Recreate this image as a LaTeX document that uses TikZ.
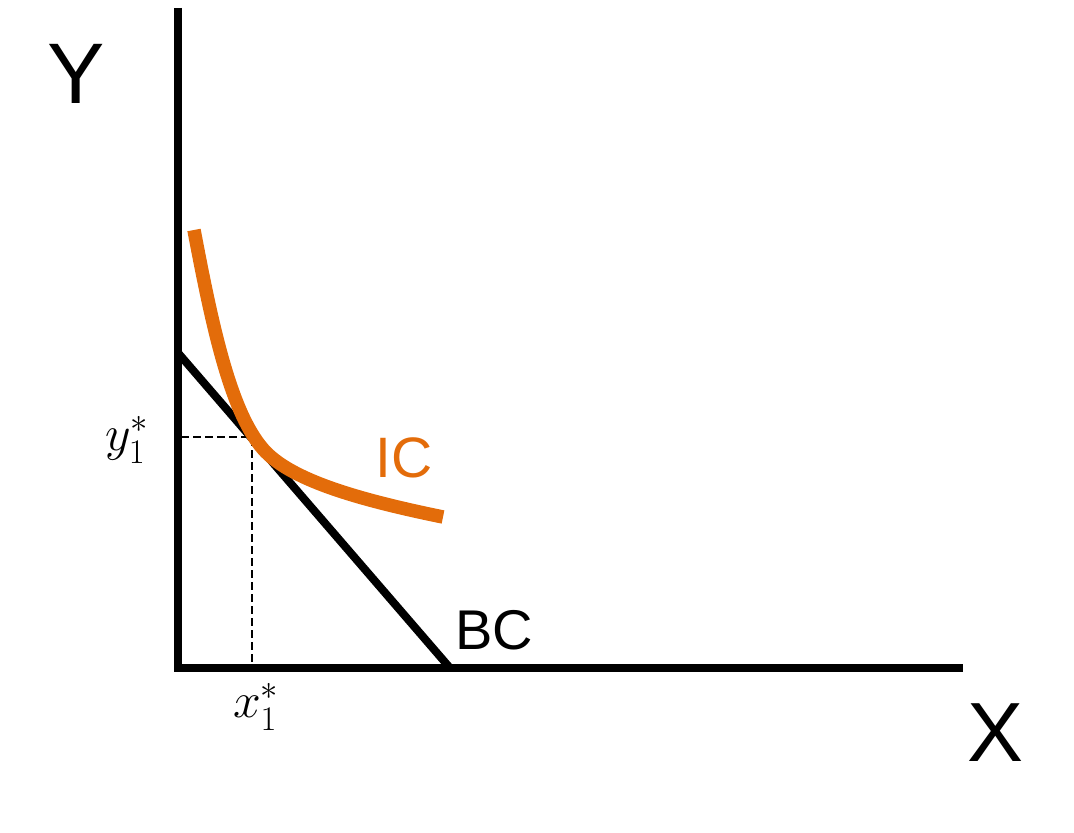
\documentclass[tikz,border=0pt]{standalone}
\usepackage{fontspec}
\setmainfont{Liberation Sans}
\definecolor{icorange}{RGB}{227,108,10}
\begin{document}
\begin{tikzpicture}[x=0.5pt,y=-0.5pt,
  axis/.style={line width=4pt,line join=miter},
  bcline/.style={line width=4pt},
  icline/.style={line width=6.75pt,color=icorange},
  guide/.style={line width=1.3pt,dash pattern=on 4pt off 2pt},
  lab/.style={inner sep=0pt,anchor=center}]
\useasboundingbox (0,0) rectangle (1074,833);
\coordinate (Ytop) at (177.5,8);
\coordinate (O) at (177.5,668);
\coordinate (Xend) at (963,668);
\coordinate (B1) at (179,354);
\coordinate (B2) at (450,668);
\coordinate (T) at (252,437);
\coordinate (Ty) at (181,437);
\coordinate (Tx) at (252,665);
\coordinate (I0) at (194,230);
\coordinate (I1) at (263,449);
\coordinate (I2) at (443,517);
\draw[axis] (Ytop) -- (O) -- (Xend);
\draw[guide] (Ty) -- (T) -- (Tx);
\draw[bcline] (B1) -- (B2);
\draw[icline] (I0) .. controls (212,325) and (230.2,411.25) .. (I1)
  .. controls (289.2,479.2) and (354.8,499) .. (I2);
\node[lab,font=\fontsize{43}{50}\selectfont] (ly) at (76.5,74) {Y};
\node[lab,font=\fontsize{42}{50}\selectfont] (lx) at (995.5,733) {X};
\node[lab,font=\fontsize{28}{34}\selectfont] (lbc) at (494,630) {BC};
\node[lab,font=\fontsize{28.5}{34}\selectfont,text=icorange] (lic) at (404,457.5) {IC};
\node[lab,font=\fontsize{26}{30}\selectfont] (lys) at (127,440) {$y_1^*$};
\node[lab,font=\fontsize{26}{30}\selectfont] (lxs) at (256,707) {$x_1^*$};
\end{tikzpicture}
\end{document}
